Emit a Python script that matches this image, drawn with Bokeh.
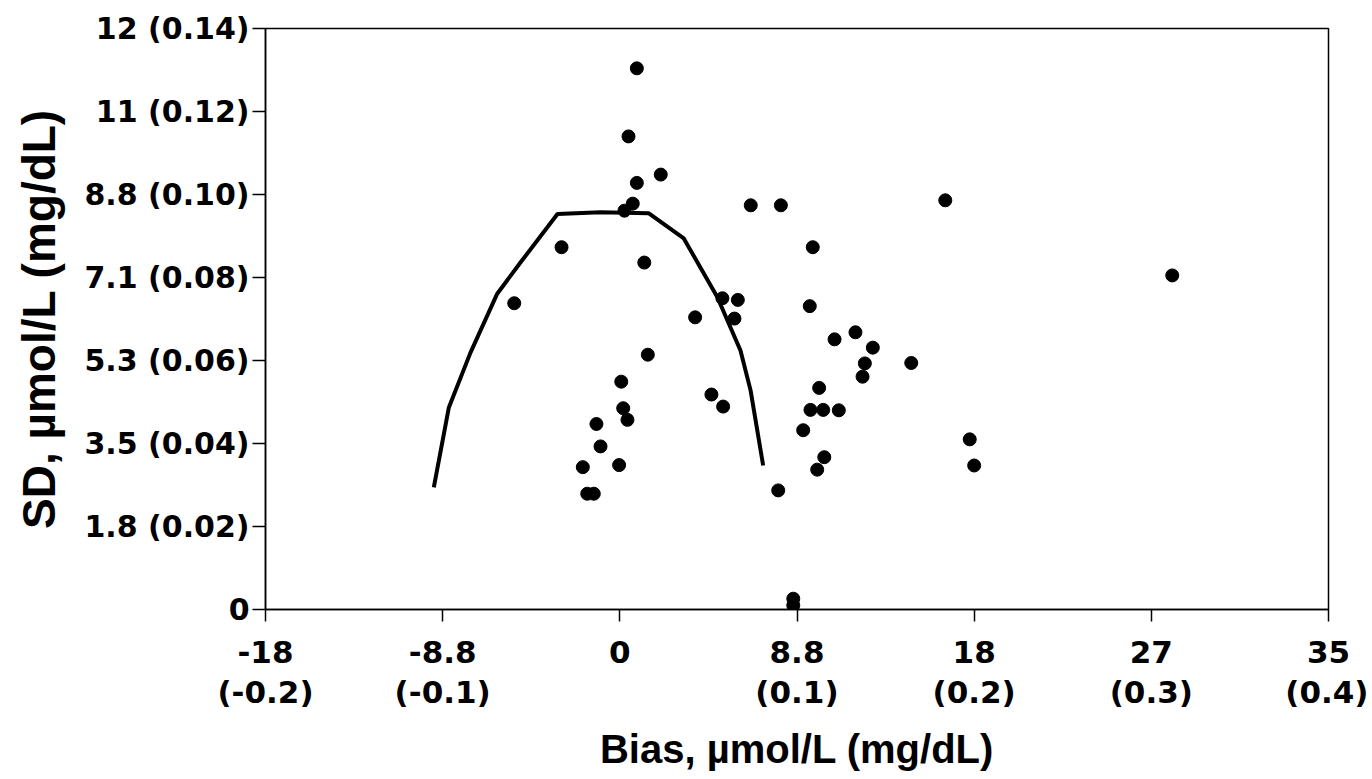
from bokeh.plotting import figure
from bokeh.models import LinearAxis, FixedTicker, Range1d
from bokeh.embed import file_html
from bokeh.resources import INLINE

# Data in mg/dL (axis scale); labels also give µmol/L
bias = [0.0096, 0.0049, 0.0231, 0.0096, 0.0073, 0.0026, 0.0739, 0.0909, -0.0329, 0.0138,
        -0.0596, 0.0579, 0.0666, 0.0425, 0.0647, 0.0158, 0.0008, 0.0019, 0.0043, -0.0132,
        -0.0109, -0.0209, -0.0004, -0.0184, -0.0147, 0.0517, 0.0583, 0.0894, 0.0979, 0.0979,
        0.1089, 0.1837, 0.1072, 0.1330, 0.1212, 0.1428, 0.1383, 0.1370, 0.1645, 0.1125,
        0.1076, 0.1148, 0.1236, 0.1035, 0.1154, 0.1114, 0.1975, 0.2000, 0.3118]
sd = [0.1304, 0.1140, 0.1048, 0.1028, 0.0978, 0.0961, 0.0974, 0.0974, 0.0873, 0.0836,
      0.0738, 0.0750, 0.0746, 0.0704, 0.0701, 0.0614, 0.0549, 0.0485, 0.0457, 0.0447,
      0.0393, 0.0343, 0.0348, 0.0279, 0.0279, 0.0518, 0.0489, 0.0287, 0.0026, 0.0010,
      0.0873, 0.0986, 0.0731, 0.0668, 0.0651, 0.0631, 0.0593, 0.0561, 0.0594, 0.0534,
      0.0481, 0.0481, 0.0480, 0.0432, 0.0367, 0.0337, 0.0410, 0.0347, 0.0805]

curve_x = [-0.1050, -0.0965, -0.0843, -0.0692, -0.0561, -0.0352, -0.0109, 0.0162,
           0.0361, 0.0550, 0.0681, 0.0738, 0.0809]
curve_y = [0.0294, 0.0487, 0.0619, 0.0761, 0.0836, 0.0953, 0.0957, 0.0955,
           0.0894, 0.0753, 0.0624, 0.0528, 0.0347]

x_ticks = [-0.2, -0.1, 0.0, 0.1, 0.2, 0.3, 0.4]
x_labels_umol = ["-18", "-8.8", "0", "8.8", "18", "27", "35"]
x_labels_mg = ["(-0.2)", "(-0.1)", "", "(0.1)", "(0.2)", "(0.3)", "(0.4)"]
y_ticks = [0.0, 0.02, 0.04, 0.06, 0.08, 0.10, 0.12, 0.14]
y_labels = ["0", "1.8 (0.02)", "3.5 (0.04)", "5.3 (0.06)", "7.1 (0.08)",
            "8.8 (0.10)", "11 (0.12)", "12 (0.14)"]

p = figure(frame_width=1063, frame_height=581, output_backend="svg", toolbar_location=None,
           x_range=Range1d(-0.2, 0.4), y_range=Range1d(0, 0.14),
           min_border_left=265, min_border_top=28, min_border_right=40, min_border_bottom=150)
p.grid.visible = False
p.background_fill_color = "white"
p.border_fill_color = "white"
p.outline_line_color = "black"
p.outline_line_width = 1.5

tick_font = "DejaVu Sans"

xa = p.xaxis[0]
xa.ticker = FixedTicker(ticks=x_ticks)
xa.major_label_overrides = {t: l for t, l in zip(x_ticks, x_labels_umol)}
xa.minor_tick_line_color = None
xa.major_tick_out = 12
xa.major_tick_in = 0
xa.major_tick_line_width = 1.5
xa.axis_line_width = 1.5
xa.major_label_text_font = tick_font
xa.major_label_text_font_style = "bold"
xa.major_label_text_font_size = "31px"
xa.major_label_text_color = "black"
xa.major_label_standoff = 19

xa2 = LinearAxis(ticker=FixedTicker(ticks=x_ticks))
xa2.major_label_overrides = {t: l for t, l in zip(x_ticks, x_labels_mg)}
xa2.axis_line_color = None
xa2.major_tick_line_color = None
xa2.minor_tick_line_color = None
xa2.major_label_text_font = tick_font
xa2.major_label_text_font_style = "bold"
xa2.major_label_text_font_size = "31px"
xa2.major_label_text_color = "black"
xa2.major_label_standoff = 2
xa2.axis_label = "Bias, µmol/L (mg/dL)"
xa2.axis_label_text_font = "Liberation Sans"
xa2.axis_label_text_font_style = "bold"
xa2.axis_label_text_font_size = "40px"
xa2.axis_label_text_color = "black"
xa2.axis_label_standoff = 14
p.add_layout(xa2, "below")

ya = p.yaxis[0]
ya.ticker = FixedTicker(ticks=y_ticks)
ya.major_label_overrides = {t: l for t, l in zip(y_ticks, y_labels)}
ya.minor_tick_line_color = None
ya.major_tick_out = 13
ya.major_tick_in = 0
ya.major_tick_line_width = 1.5
ya.axis_line_width = 1.5
ya.major_label_text_font = tick_font
ya.major_label_text_font_style = "bold"
ya.major_label_text_font_size = "30px"
ya.major_label_text_color = "black"
ya.major_label_standoff = 3
ya.axis_label = "SD, µmol/L (mg/dL)"
ya.axis_label_text_font = "Liberation Sans"
ya.axis_label_text_font_style = "bold"
ya.axis_label_text_font_size = "46px"
ya.axis_label_text_color = "black"
ya.axis_label_standoff = 16

p.line(curve_x, curve_y, line_color="black", line_width=4)
p.scatter(bias, sd, size=13, fill_color="black", line_color="black")

open("out.html", "w").write(file_html(p, INLINE))
